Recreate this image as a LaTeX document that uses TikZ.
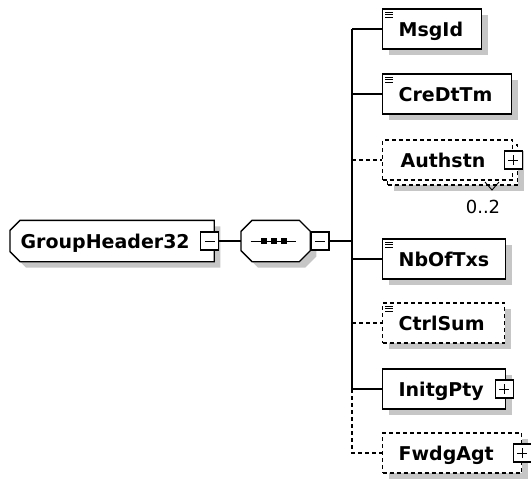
\documentclass[tikz,border=0pt]{standalone}
\usepackage{fontspec}
\setmainfont{DejaVu Sans}
\usetikzlibrary{shadows}
\newcommand\elemicon[1]{\foreach \d in {4,6.5,9}{\draw[line width=0.8pt,solid] ([shift={(3,\d)}]#1.north west) -- ++(8,0);}}
\newcommand\minusmark[1]{\draw[line width=1pt,solid] ([xshift=-5pt]#1.center) -- ([xshift=5pt]#1.center);}
\newcommand\plusmark[1]{\minusmark{#1}\draw[line width=1pt,solid] ([yshift=-5pt]#1.center) -- ([yshift=5pt]#1.center);}
\begin{document}
\begin{tikzpicture}[x=1pt,y=-1pt,line width=1.3pt,
  shd/.style={drop shadow={shadow xshift=6pt,shadow yshift=-6pt,fill=gray!45,opacity=1,draw=none}},
  optd/.style={dash pattern=on 4pt off 3pt},
  boxbase/.style={draw,fill=white,rectangle,minimum height=40pt,inner sep=0pt,anchor=west},
  elem/.style={boxbase,shd},
  opt/.style={boxbase,optd,shd},
  optfront/.style={boxbase,optd},
  frame/.style={rectangle,minimum height=40pt,inner sep=0pt,anchor=west},
  lbl/.style={font=\fontsize{19}{22}\selectfont\bfseries,anchor=base west,inner sep=0pt},
  pm/.style={draw,solid,fill=white,minimum width=18pt,minimum height=18pt,inner sep=0pt}
]
\useasboundingbox (0,0) rectangle (531,480);

% junction of the sequence
\coordinate (j) at (352,241);

% child element boxes
\node[elem,minimum width=99pt] (msg) at (382,29) {};
\node[elem,minimum width=129pt] (cre) at (382,94) {};
\node[opt,minimum width=130pt] (authB) at (387,165) {};
\node[optfront,minimum width=130pt] (auth) at (382,160) {};
\node[elem,minimum width=123pt] (nb) at (382,259) {};
\node[opt,minimum width=122pt] (ctrl) at (382,323) {};
\node[elem,minimum width=123pt] (init) at (382,389) {};
\node[opt,minimum width=139pt] (fwd) at (382,453) {};

% root and sequence (chamfered outlines drawn round named frames)
\node[frame,minimum width=203pt] (gh) at (10,241) {};
\path[draw,fill=white,shd] ([xshift=10pt]gh.north west) -- (gh.north east) -- (gh.south east)
  -- ([xshift=10pt]gh.south west) -- ([yshift=10pt]gh.south west) -- ([yshift=-10pt]gh.north west) -- cycle;
\node[pm] (ghM) at ([xshift=-4.5pt]gh.east) {};
\node[frame,minimum width=68pt] (seq) at (241,241) {};
\path[draw,fill=white,shd] ([xshift=11pt]seq.north west) -- ([xshift=-11pt]seq.north east)
  -- ([yshift=-11pt]seq.north east) -- ([yshift=11pt]seq.south east) -- ([xshift=-11pt]seq.south east)
  -- ([xshift=11pt]seq.south west) -- ([yshift=11pt]seq.south west) -- ([yshift=-11pt]seq.north west) -- cycle;
\node[pm,anchor=west] (seqM) at (seq.east) {};

% connectors
\draw (ghM.east) -- (seq.west);
\draw (seqM.east) -- (j);
\draw (j |- msg.west) -- (j |- init.west);
\draw (j |- msg.west) -- (msg.west);
\draw (j |- cre.west) -- (cre.west);
\draw[optd] (j |- auth.west) -- (auth.west);
\draw (j |- nb.west) -- (nb.west);
\draw[optd] (j |- ctrl.west) -- (ctrl.west);
\draw (j |- init.west) -- (init.west);
\draw[optd] (j |- init.west) -- (j |- fwd.west) -- (fwd.west);

% labels
\node[lbl] (ghT) at ([shift={(10,7)}]gh.west) {GroupHeader32};
\node[lbl] (msgT) at ([shift={(16,7)}]msg.west) {MsgId};
\node[lbl] (creT) at ([shift={(16,7)}]cre.west) {CreDtTm};
\node[lbl] (authT) at ([shift={(18,7)}]auth.west) {Authstn};
\node[lbl] (nbT) at ([shift={(16,7)}]nb.west) {NbOfTxs};
\node[lbl] (ctrlT) at ([shift={(16,7)}]ctrl.west) {CtrlSum};
\node[lbl] (initT) at ([shift={(16,7)}]init.west) {InitgPty};
\node[lbl] (fwdT) at ([shift={(16,7)}]fwd.west) {FwdgAgt};
\node[font=\fontsize{18}{20}\selectfont,inner sep=0pt,anchor=base] (mult) at (483,213.5) {0..2};

% icons
\elemicon{msg}
\elemicon{cre}
\elemicon{nb}
\elemicon{ctrl}

% plus / minus boxes
\minusmark{ghM}
\minusmark{seqM}
\node[pm] (authP) at (auth.east) {};
\plusmark{authP}
\node[pm] (initP) at ([xshift=-2pt]init.east) {};
\plusmark{initP}
\node[pm] (fwdP) at (fwd.east) {};
\plusmark{fwdP}

% multiplicity notch
\draw[line width=0.9pt] (485,182) -- (492,190) -- (499,182);

% sequence symbol
\draw[line width=1pt] ([xshift=-25pt]seq.center) -- ([xshift=20pt]seq.center);
\foreach \dx in {-12,-2,8}{\fill ([xshift=\dx pt]seq.center) +(-3,-3) rectangle +(3,3);}
\end{tikzpicture}
\end{document}
